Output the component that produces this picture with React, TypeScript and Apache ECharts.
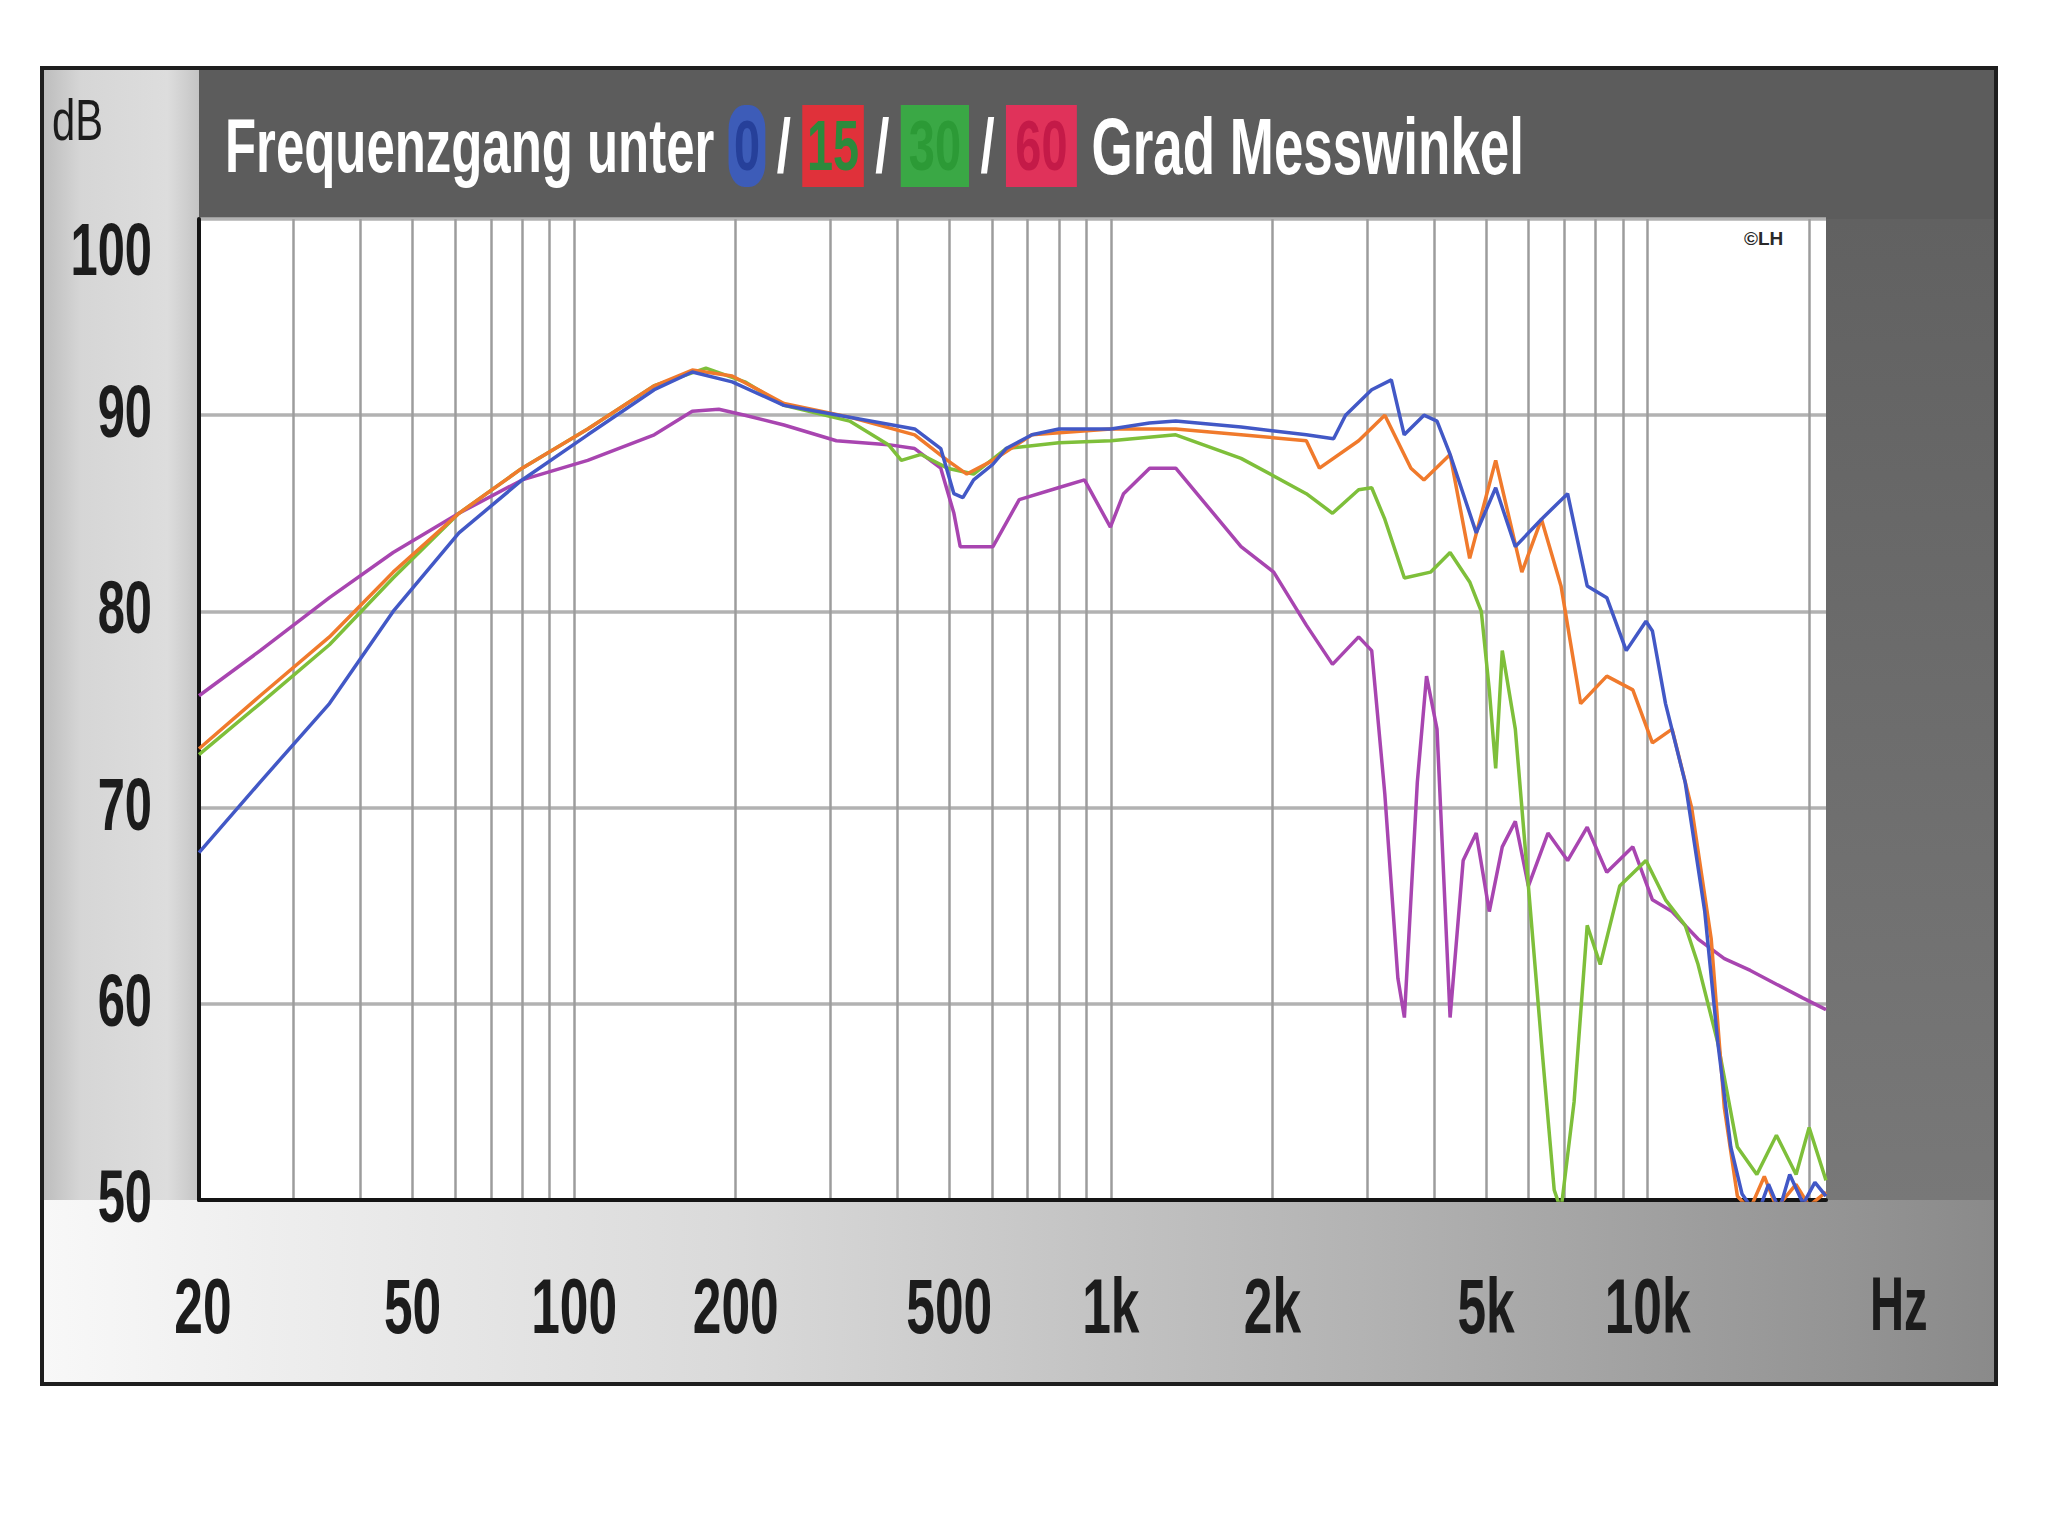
import React, { useEffect, useRef } from "react";
import * as echarts from "echarts";

// ---- Data ----
const X_MIN_HZ = 20;
const X_MAX_HZ = 21500;
const X_LABEL_FREQS = [20, 50, 100, 200, 500, 1000, 2000, 5000, 10000];
const GRID_FREQS = [
  20, 30, 40, 50, 60, 70, 80, 90, 100, 200, 300, 400, 500, 600, 700, 800, 900,
  1000, 2000, 3000, 4000, 5000, 6000, 7000, 8000, 9000, 10000, 20000,
];
const Y_MIN = 50;
const Y_MAX = 100;
const Y_STEP = 10;
const Y_LABELS = [50, 60, 70, 80, 90, 100];

// 0 degree (blue)
const FREQ_0 = [
  20, 26, 35, 46, 61, 80, 106, 141, 166, 197, 246, 326, 431, 482, 510, 530, 555,
  603, 638, 713, 800, 1000, 1180, 1321, 1748, 2313, 2600, 2737, 3062, 3331, 3520,
  3831, 4052, 4286, 4795, 5212, 5670, 6343, 7096, 7718, 8395, 9126, 9931, 10210,
  10800, 11748, 12780, 13520, 14290, 15000, 16000, 16800, 17600, 18400, 19500,
  20500, 21500,
];
const DB_0 = [
  67.7, 71.3, 75.3, 80.0, 84.0, 86.7, 89.0, 91.3, 92.2, 91.7, 90.5, 89.9, 89.3,
  88.3, 86.0, 85.8, 86.7, 87.5, 88.3, 89.0, 89.3, 89.3, 89.6, 89.7, 89.4, 89.0,
  88.8, 90.0, 91.3, 91.8, 89.0, 90.0, 89.7, 88.0, 84.0, 86.3, 83.3, 84.7, 86.0,
  81.3, 80.7, 78.0, 79.5, 79.0, 75.3, 71.3, 64.7, 58.0, 52.7, 50.3, 49.2, 50.8,
  49.5, 51.3, 49.8, 50.9, 50.2,
];

// 15 degree (red / orange)
const FREQ_15 = [
  20, 26, 35, 46, 61, 80, 106, 141, 166, 197, 246, 326, 431, 496, 539, 603, 713,
  1000, 1321, 1748, 2313, 2447, 2895, 3239, 3623, 3831, 4286, 4662, 5212, 5831,
  6343, 6898, 7504, 8395, 9386, 10210, 11108, 12080, 13140, 13900, 14700, 15500,
  16500, 17400, 18900, 20000, 21500,
];
const DB_15 = [
  73.0, 75.7, 78.7, 82.0, 85.0, 87.3, 89.3, 91.5, 92.3, 92.0, 90.6, 89.9, 89.0,
  87.7, 87.0, 87.7, 89.0, 89.3, 89.3, 89.0, 88.7, 87.3, 88.7, 90.0, 87.3, 86.7,
  88.0, 82.7, 87.7, 82.0, 84.7, 81.3, 75.3, 76.7, 76.0, 73.3, 74.0, 70.0, 63.3,
  54.7, 50.2, 49.5, 51.2, 49.6, 50.8, 49.7, 50.4,
];

// 30 degree (green)
const FREQ_30 = [
  20, 26, 35, 46, 61, 80, 106, 141, 176, 208, 246, 326, 385, 407, 443, 496, 555,
  638, 800, 1000, 1321, 1748, 2313, 2588, 2895, 3062, 3239, 3523, 3940, 4286,
  4662, 4900, 5071, 5212, 5361, 5670, 5997, 6343, 6700, 6898, 7296, 7718, 8162,
  8873, 9931, 10800, 11748, 12420, 13520, 14700, 15980, 17380, 18910, 20000,
  21500,
];
const DB_30 = [
  72.7, 75.3, 78.3, 81.7, 85.0, 87.3, 89.3, 91.5, 92.4, 91.7, 90.5, 89.7, 88.5,
  87.7, 88.0, 87.3, 87.0, 88.3, 88.6, 88.7, 89.0, 87.8, 86.0, 85.0, 86.2, 86.3,
  84.7, 81.7, 82.0, 83.0, 81.5, 80.0, 76.0, 72.0, 78.0, 74.0, 66.0, 58.0, 50.5,
  49.5, 55.0, 64.0, 62.0, 66.0, 67.3, 65.3, 64.0, 62.0, 58.0, 52.7, 51.3, 53.3,
  51.3, 53.7, 51.0,
];

// 60 degree (magenta)
const FREQ_60 = [
  20, 26, 35, 46, 61, 80, 106, 141, 166, 186, 208, 246, 308, 385, 431, 482, 510,
  524, 603, 675, 798, 893, 998, 1056, 1181, 1321, 1478, 1748, 2011, 2313, 2588,
  2895, 3062, 3239, 3426, 3523, 3724, 3874, 4052, 4286, 4533, 4795, 5071, 5361,
  5670, 5997, 6523, 7096, 7718, 8395, 9386, 10210, 11108, 12420, 13900, 15540,
  17380, 19450, 21500,
];
const DB_60 = [
  75.7, 78.0, 80.7, 83.0, 85.0, 86.7, 87.7, 89.0, 90.2, 90.3, 90.0, 89.5, 88.7,
  88.5, 88.3, 87.3, 85.0, 83.3, 83.3, 85.7, 86.3, 86.7, 84.3, 86.0, 87.3, 87.3,
  85.7, 83.3, 82.0, 79.3, 77.3, 78.7, 78.0, 70.7, 61.3, 59.3, 71.3, 76.7, 74.0,
  59.3, 67.3, 68.7, 64.7, 68.0, 69.3, 66.0, 68.7, 67.3, 69.0, 66.7, 68.0, 65.3,
  64.7, 63.3, 62.3, 61.7, 61.0, 60.3, 59.7,
];

const SERIES_NAMES = ["60°", "30°", "15°", "0°"];
const SERIES_COLORS = ["#a845b0", "#7ebf3a", "#f07a2c", "#4258c6"];

const lg = (v: number) => Math.log10(v);
const pairs = (f: number[], d: number[]) => f.map((v, i) => [lg(v), d[i]]);
const freqLabel = (f: number) => (f >= 1000 ? `${f / 1000}k` : String(f));

const SANS = '"Liberation Sans", Arial, sans-serif';

export default function App() {
  const ref = useRef<HTMLDivElement>(null);

  useEffect(() => {
    if (!ref.current) return;
    const chart = echarts.init(ref.current, null, { renderer: "svg" });

    const dataSets = [
      pairs(FREQ_60, DB_60),
      pairs(FREQ_30, DB_30),
      pairs(FREQ_15, DB_15),
      pairs(FREQ_0, DB_0),
    ];

    const baseGraphic: any[] = [
      {
        type: "rect",
        id: "bandBottom",
        z: -10,
        shape: { x: 42, y: 1200, width: 1954, height: 184 },
        style: {
          fill: new echarts.graphic.LinearGradient(0, 0, 1, 0, [
            { offset: 0, color: "#f8f8f8" },
            { offset: 0.35, color: "#dadada" },
            { offset: 0.7, color: "#b0b0b0" },
            { offset: 1, color: "#8a8a8a" },
          ]),
        },
      },
      {
        type: "rect",
        id: "bandLeft",
        z: -10,
        shape: { x: 42, y: 68, width: 157, height: 1132 },
        style: {
          fill: new echarts.graphic.LinearGradient(0, 0, 1, 0, [
            { offset: 0, color: "#bcbcbc" },
            { offset: 0.25, color: "#d6d6d6" },
            { offset: 0.8, color: "#dddddd" },
            { offset: 1, color: "#c4c4c4" },
          ]),
        },
      },
      {
        type: "rect",
        id: "bandTitle",
        z: -10,
        shape: { x: 199, y: 68, width: 1797, height: 151 },
        style: { fill: "#5c5c5c" },
      },
      {
        type: "rect",
        id: "bandRight",
        z: -10,
        shape: { x: 1826, y: 219, width: 170, height: 981 },
        style: {
          fill: new echarts.graphic.LinearGradient(0, 0, 0, 1, [
            { offset: 0, color: "#616161" },
            { offset: 1, color: "#787878" },
          ]),
        },
      },
      {
        type: "rect",
        id: "frame",
        z: -9,
        shape: { x: 42, y: 68, width: 1954, height: 1316 },
        style: { fill: "none", stroke: "#1e1e1e", lineWidth: 4 },
      },
      {
        type: "text",
        id: "title",
        z: 10,
        x: 225,
        y: 146,
        scaleX: 0.67,
        style: {
          text: "{t|Frequenzgang unter }{b|0}{s|/}{r|15}{s|/}{g|30}{s|/}{m|60}{u| Grad Messwinkel}",
          verticalAlign: "middle",
          align: "left",
          rich: {
            t: { fontFamily: SANS, fontWeight: "bold", fontSize: 76, fill: "#ffffff" },
            u: { fontFamily: SANS, fontWeight: "bold", fontSize: 79, fill: "#ffffff" },
            s: { fontFamily: SANS, fontWeight: "bold", fontSize: 76, fill: "#ffffff", padding: [0, 17] },
            b: { fontFamily: SANS, fontWeight: "bold", fontSize: 70, fill: "#26409a", backgroundColor: "#3d5cb8", borderRadius: 24, padding: [6, 8] },
            r: { fontFamily: SANS, fontWeight: "bold", fontSize: 70, fill: "#2c8a3c", backgroundColor: "#e0313a", padding: [6, 7] },
            g: { fontFamily: SANS, fontWeight: "bold", fontSize: 70, fill: "#2c9a36", backgroundColor: "#3aa845", padding: [6, 12] },
            m: { fontFamily: SANS, fontWeight: "bold", fontSize: 70, fill: "#c41a48", backgroundColor: "#e0325a", padding: [6, 14] },
          },
        },
      },
      {
        type: "text",
        id: "dB",
        z: 10,
        x: 52,
        y: 120,
        scaleX: 0.72,
        style: { text: "dB", fontFamily: SANS, fontSize: 58, fill: "#1c1c1c", verticalAlign: "middle", align: "left" },
      },
      {
        type: "text",
        id: "Hz",
        z: 10,
        x: 1870,
        y: 1304,
        scaleX: 0.62,
        style: { text: "Hz", fontFamily: SANS, fontWeight: "bold", fontSize: 76, fill: "#1c1c1c", verticalAlign: "middle", align: "left" },
      },
      {
        type: "text",
        id: "copy",
        z: 10,
        x: 1744,
        y: 238,
        style: { text: "©LH", fontFamily: SANS, fontWeight: "bold", fontSize: 19, fill: "#2a2a2a", verticalAlign: "middle", align: "left" },
      },
    ];

    const option: any = {
      animation: false,
      grid: {
        left: 199,
        top: 219,
        width: 1627,
        height: 981,
        containLabel: false,
        outerBoundsMode: "none",
      },
      xAxis: {
        type: "value",
        min: lg(X_MIN_HZ),
        max: lg(X_MAX_HZ),
        axisLine: { show: true, onZero: false, lineStyle: { color: "#141414", width: 4 } },
        axisTick: { show: false, customValues: GRID_FREQS.map(lg) },
        axisLabel: { show: false },
        splitLine: { show: true, lineStyle: { color: "#9c9c9c", width: 2.5 } },
      },
      yAxis: {
        type: "value",
        min: Y_MIN,
        max: Y_MAX,
        interval: Y_STEP,
        axisLine: { show: true, lineStyle: { color: "#141414", width: 4 } },
        axisTick: { show: false },
        axisLabel: { show: false },
        splitLine: { show: true, lineStyle: { color: "#b2b2b2", width: 3.5 } },
      },
      series: dataSets.map((d, i) => ({
        name: SERIES_NAMES[i],
        type: "line",
        data: d,
        showSymbol: false,
        smooth: false,
        clip: true,
        z: 3 + i,
        lineStyle: { color: SERIES_COLORS[i], width: 3.5 },
      })),
      graphic: baseGraphic,
    };

    chart.setOption(option);

    // Tick labels, placed through the chart's own axes (condensed look via scaleX)
    const labelGraphic: any[] = [];
    X_LABEL_FREQS.forEach((f) => {
      const p = chart.convertToPixel({ gridIndex: 0 }, [lg(f), Y_MIN]) as number[];
      labelGraphic.push({
        type: "text",
        id: `xl${f}`,
        z: 10,
        x: p[0] + (f === X_MIN_HZ ? 4 : 0),
        y: p[1] + 106,
        scaleX: 0.66,
        style: {
          text: freqLabel(f),
          fontFamily: SANS,
          fontWeight: "bold",
          fontSize: 78,
          fill: "#1c1c1c",
          align: "center",
          verticalAlign: "middle",
        },
      });
    });
    Y_LABELS.forEach((v) => {
      const p = chart.convertToPixel({ gridIndex: 0 }, [lg(X_MIN_HZ), v]) as number[];
      labelGraphic.push({
        type: "text",
        id: `yl${v}`,
        z: 10,
        x: p[0] - 47,
        y: p[1] + (v === Y_MAX ? 30 : -4),
        scaleX: 0.66,
        style: {
          text: String(v),
          fontFamily: SANS,
          fontWeight: "bold",
          fontSize: 74,
          fill: "#1c1c1c",
          align: "right",
          verticalAlign: "middle",
        },
      });
    });
    chart.setOption({ graphic: [...baseGraphic, ...labelGraphic] });

    return () => chart.dispose();
  }, []);

  return (
    <div
      ref={ref}
      style={{ position: "fixed", left: 0, top: 0, width: 2048, height: 1536, background: "#ffffff" }}
    />
  );
}
